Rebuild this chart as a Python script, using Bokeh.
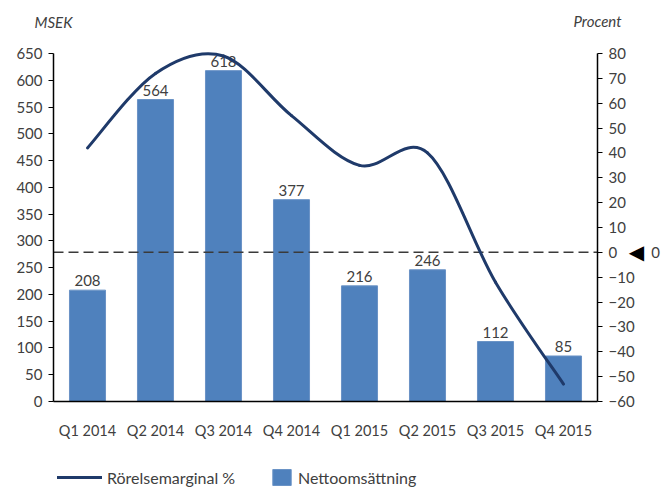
import numpy as np
from bokeh.plotting import figure
from bokeh.models import Range1d, LinearAxis, FixedTicker, Legend, LegendItem, Label
from bokeh.core.properties import value
from bokeh.embed import file_html
from bokeh.resources import INLINE

quarters = ["Q1 2014", "Q2 2014", "Q3 2014", "Q4 2014",
            "Q1 2015", "Q2 2015", "Q3 2015", "Q4 2015"]
net_sales = [208, 564, 618, 377, 216, 246, 112, 85]          # MSEK
margin_pct = [42, 72, 79, 55, 35, 40, -12, -53]             # Procent
left_ticks = list(range(0, 651, 50))
right_ticks = list(range(-60, 81, 10))
zero_marker = 0

FONT = "Lato"
GREY = "#404040"
BAR = "#4F81BD"
LINE = "#1F3A6A"

W, H = 662, 488
# frame covers the whole canvas; axes are pinned with fixed_location
FR_L, FR_R, FR_T, FR_B = 53, 597, 53, 401     # pixel box of the axes
n_cat = len(quarters)
px_x = (FR_R - FR_L) / n_cat
lmin, lmax = left_ticks[0], left_ticks[-1]
rmin, rmax = right_ticks[0], right_ticks[-1]
px_l = (lmax - lmin) / (FR_B - FR_T)
px_r = (rmax - rmin) / (FR_B - FR_T)

x_range = Range1d(-FR_L / px_x, n_cat + (W - FR_R) / px_x)
y_range = Range1d(lmin - (H - FR_B) * px_l, lmax + FR_T * px_l)

p = figure(width=W, height=H, output_backend="svg", toolbar_location=None,
           x_range=x_range, y_range=y_range, min_border=0,
           min_border_left=0, min_border_right=0, min_border_top=0,
           min_border_bottom=0, title=None)
p.extra_y_ranges = {"pct": Range1d(rmin - (H - FR_B) * px_r, rmax + FR_T * px_r)}
p.outline_line_color = None
p.xgrid.visible = False
p.ygrid.visible = False

xs = np.arange(n_cat) + 0.5

# axes
ya = p.yaxis[0]
ya.ticker = FixedTicker(ticks=left_ticks)
ya.bounds = (lmin, lmax)
ya.fixed_location = 0
ax_r = LinearAxis(y_range_name="pct", ticker=FixedTicker(ticks=right_ticks),
                  bounds=(rmin, rmax), fixed_location=n_cat)
p.add_layout(ax_r, "right")
for ax in [ya, ax_r]:
    ax.axis_line_color = "black"
    ax.axis_line_width = 1.5
    ax.major_tick_line_color = "black"
    ax.major_tick_line_width = 1.2
    ax.major_tick_in = 0
    ax.major_tick_out = 5
    ax.minor_tick_line_color = None
    ax.major_label_text_font = FONT
    ax.major_label_text_font_size = "15px"
    ax.major_label_text_color = GREY
    ax.major_label_standoff = 6
xa = p.xaxis[0]
xa.ticker = FixedTicker(ticks=list(xs))
xa.major_label_overrides = {float(x): q for x, q in zip(xs, quarters)}
xa.bounds = (0, n_cat)
xa.fixed_location = lmin
xa.axis_line_color = "black"
xa.axis_line_width = 1.5
xa.major_tick_line_color = None
xa.minor_tick_line_color = None
xa.major_label_standoff = 14
xa.major_label_text_font = FONT
xa.major_label_text_font_size = "14.5px"
xa.major_label_text_color = GREY

# bars
bars = p.vbar(x=xs, top=net_sales, width=0.53, fill_color=BAR,
              line_color="#6A93C6", line_width=1)
p.text(x=xs, y=net_sales, text=[str(v) for v in net_sales],
       text_align="center", text_baseline="bottom", y_offset=-4,
       text_font=value(FONT), text_font_size="15px", text_color=GREY)

# zero reference line on the percent axis, between the two axes
p.segment(x0=[0], x1=[n_cat], y0=[zero_marker], y1=[zero_marker],
          y_range_name="pct", line_color="#3a3a3a", line_width=1.5,
          line_dash="10 5")

# smoothed line (Catmull-Rom -> cubic bezier)
P = margin_pct
n = len(P)
x0, y0, x1, y1, cx0, cy0, cx1, cy1 = ([] for _ in range(8))
for i in range(n - 1):
    im = max(i - 1, 0)
    ip = min(i + 2, n - 1)
    x0.append(xs[i]); y0.append(P[i])
    x1.append(xs[i + 1]); y1.append(P[i + 1])
    cx0.append(xs[i] + (xs[i + 1] - xs[im]) / 6)
    cy0.append(P[i] + (P[i + 1] - P[im]) / 6)
    cx1.append(xs[i + 1] - (xs[ip] - xs[i]) / 6)
    cy1.append(P[i + 1] - (P[ip] - P[i]) / 6)
curve = p.bezier(x0=x0, y0=y0, x1=x1, y1=y1, cx0=cx0, cy0=cy0, cx1=cx1, cy1=cy1,
                 y_range_name="pct", line_color=LINE, line_width=3, line_cap="round")

# axis titles
p.add_layout(Label(x=0, y=H - 21, y_units="screen", text="MSEK",
                   text_align="center", text_baseline="middle",
                   text_font=FONT, text_font_style="italic",
                   text_font_size="15px", text_color=GREY))
p.add_layout(Label(x=n_cat, y=H - 20, y_units="screen", text="Procent",
                   text_align="center", text_baseline="middle",
                   text_font=FONT, text_font_style="italic",
                   text_font_size="15px", text_color=GREY))

# zero marker on the right
p.add_layout(Label(x=n_cat, x_offset=39, y=zero_marker, y_range_name="pct",
                   text="◀", text_align="center", text_baseline="middle",
                   text_font="DejaVu Sans", text_font_size="20px", text_color="black"))
p.add_layout(Label(x=n_cat, x_offset=58, y=zero_marker, y_range_name="pct",
                   text="0", text_align="center", text_baseline="middle",
                   text_font=FONT, text_font_size="15px", text_color=GREY))

common = dict(padding=0, margin=0, border_line_color=None,
              background_fill_alpha=0, label_text_font=FONT,
              label_text_font_size="16px", label_text_color=GREY,
              label_standoff=5, glyph_height=20, label_height=20)
leg1 = Legend(items=[LegendItem(label="Rörelsemarginal %", renderers=[curve])],
              location=(57, 1), glyph_width=45, **common)
leg2 = Legend(items=[LegendItem(label="Nettoomsättning", renderers=[bars])],
              location=(270, 1), glyph_width=23, **common)
p.add_layout(leg1)
p.add_layout(leg2)

open("out.html", "w").write(file_html(p, INLINE))
